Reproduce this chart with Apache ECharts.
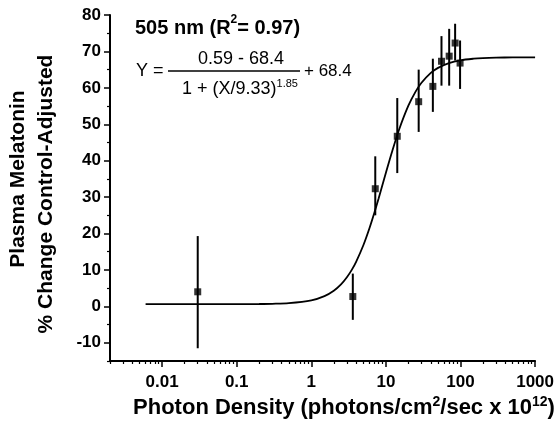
<!DOCTYPE html>
<html><head><meta charset="utf-8">
<script src="https://cdn.jsdelivr.net/npm/echarts@6/dist/echarts.min.js"></script>
<style>html,body{margin:0;padding:0;background:#fff}#c{width:557px;height:431px}</style>
</head><body><div id="c"></div>
<script>
// Measured points (photon density, % change) and error bar limits
const photonX = [0.03, 3.6, 7.2, 14.2, 27.5, 42.6, 55.6, 70.5, 84.7, 98.7];
const melatoninY = [4.0, 2.7, 32.3, 46.7, 56.2, 60.4, 67.3, 68.7, 72.3, 66.8];
const errLow = [-11.5, -3.7, 25.0, 36.6, 47.9, 53.4, 60.6, 60.6, 67.5, 59.7];
const errHigh = [19.3, 9.0, 41.2, 57.2, 65.0, 68.0, 74.2, 76.2, 77.6, 73.0];
// Fitted curve
const curveX = [0.006, 0.01, 0.03, 0.1, 0.2, 0.3, 0.5, 1, 1.5, 2, 2.5, 3, 3.5, 4, 5, 6, 7, 8, 9, 10, 12, 15, 20, 25, 30, 40, 50, 70, 100, 150, 200, 300, 500, 1000];
const curveY = [0.59, 0.59, 0.59, 0.60, 0.65, 0.71, 0.89, 1.66, 2.82, 4.30, 6.05, 8.00, 10.09, 12.30, 16.85, 21.37, 25.69, 29.70, 33.37, 36.67, 42.25, 48.50, 55.10, 58.97, 61.39, 64.10, 65.49, 66.81, 67.57, 68.00, 68.17, 68.29, 68.36, 68.39];
// Axis ticks
const xMajor = [0.01, 0.1, 1, 10, 100, 1000];
const xLabels = ['0.01', '0.1', '1', '10', '100', '1000'];
const yMajor = [-10, 0, 10, 20, 30, 40, 50, 60, 70, 80];
const yMinor = [-15, -5, 5, 15, 25, 35, 45, 55, 65, 75];

const xMinor = [];
for (let n = -3; n <= 2; n++) for (let k = 2; k <= 9; k++) {
  const v = +(k * Math.pow(10, n)).toPrecision(6);
  if (v >= 0.002 && v <= 1000) xMinor.push(v);
}

const FONT = '"Liberation Sans", Arial, Helvetica, sans-serif';
const chart = echarts.init(document.getElementById('c'), null, {renderer: 'canvas'});
const xBase = {type: 'log', logBase: 10, min: 0.002, max: 1000, splitLine: {show: false}, gridIndex: 0, position: 'bottom'};
const yBase = {type: 'value', min: -15, max: 80, interval: 5, splitLine: {show: false}, gridIndex: 0, position: 'left'};

chart.setOption({
  animation: false,
  backgroundColor: '#fff',
  grid: {left: 110, right: 19, top: 15, bottom: 70},
  xAxis: [
    Object.assign({}, xBase, {
      axisLine: {show: true, onZero: false, lineStyle: {color: '#000', width: 2}},
      axisTick: {show: true, inside: false, length: 6, lineStyle: {color: '#000', width: 1.5}, customValues: xMajor},
      axisLabel: {show: true, customValues: xMajor, margin: 13, color: '#000', fontFamily: FONT, fontWeight: 'bold', fontSize: 17,
        formatter: v => { const i = xMajor.findIndex(m => Math.abs(Math.log10(m) - Math.log10(v)) < 1e-6); return i >= 0 ? xLabels[i] : ''; }}
    }),
    Object.assign({}, xBase, {
      axisLine: {show: false, onZero: false},
      axisTick: {show: true, inside: false, length: 3, lineStyle: {color: '#000', width: 1.2}, customValues: xMinor},
      axisLabel: {show: false}
    })
  ],
  yAxis: [
    Object.assign({}, yBase, {
      axisLine: {show: true, onZero: false, lineStyle: {color: '#000', width: 2}},
      axisTick: {show: true, length: 6, lineStyle: {color: '#000', width: 1.5}, customValues: yMajor},
      axisLabel: {show: true, customValues: yMajor, margin: 9, color: '#000', fontFamily: FONT, fontWeight: 'bold', fontSize: 17}
    }),
    Object.assign({}, yBase, {
      axisLine: {show: false, onZero: false},
      axisTick: {show: true, length: 3, lineStyle: {color: '#000', width: 1.2}, customValues: yMinor},
      axisLabel: {show: false}
    })
  ],
  series: [
    {
      type: 'line', xAxisIndex: 0, yAxisIndex: 0, showSymbol: false, smooth: 0.3,
      lineStyle: {color: '#000', width: 1.8},
      data: curveX.map((x, i) => [x, curveY[i]]), z: 2
    },
    {
      type: 'custom', xAxisIndex: 0, yAxisIndex: 0,
      data: photonX.map((x, i) => [x, errLow[i], errHigh[i]]),
      renderItem: (params, api) => {
        const p1 = api.coord([api.value(0), api.value(1)]);
        const p2 = api.coord([api.value(0), api.value(2)]);
        return {type: 'line', shape: {x1: p1[0], y1: p1[1], x2: p2[0], y2: p2[1]}, style: {stroke: '#000', lineWidth: 2}};
      }, z: 3
    },
    {
      type: 'scatter', xAxisIndex: 0, yAxisIndex: 0, symbol: 'rect', symbolSize: 7,
      itemStyle: {color: '#000'},
      data: photonX.map((x, i) => [x, melatoninY[i]]), z: 4
    }
  ],
  graphic: [
    {type: 'text', left: 135, top: 14, style: {
      text: '{b|505 nm (R}{s|2}{b|= 0.97)}', fill: '#000',
      rich: {b: {fontFamily: FONT, fontWeight: 'bold', fontSize: 20, verticalAlign: 'bottom', lineHeight: 24},
             s: {fontFamily: FONT, fontWeight: 'bold', fontSize: 12, verticalAlign: 'top', lineHeight: 24, padding: [0, 0, 10, 0]}}}},
    {type: 'text', x: 136, y: 71, style: {text: 'Y =', fontFamily: FONT, fontSize: 18, fill: '#000', verticalAlign: 'middle'}},
    {type: 'text', x: 241, y: 59, style: {text: '0.59 - 68.4', fontFamily: FONT, fontSize: 18, fill: '#000', align: 'center', verticalAlign: 'middle'}},
    {type: 'line', shape: {x1: 168, y1: 71, x2: 300, y2: 71}, style: {stroke: '#000', lineWidth: 1.3}},
    {type: 'text', x: 182, y: 78, style: {
      text: '{n|1 + (X/9.33)}{s|1.85}', fill: '#000',
      rich: {n: {fontFamily: FONT, fontSize: 18, verticalAlign: 'bottom', lineHeight: 20},
             s: {fontFamily: FONT, fontSize: 11, verticalAlign: 'top', lineHeight: 20}}}},
    {type: 'text', x: 304, y: 71, style: {text: '+ 68.4', fontFamily: FONT, fontSize: 17, fill: '#000', verticalAlign: 'middle'}},
    {type: 'text', x: 344, y: 407, style: {
      text: '{t|Photon Density (photons/cm}{s|2}{t|/sec x 10}{s|12}{t|)}', fill: '#000', align: 'center', verticalAlign: 'middle',
      rich: {t: {fontFamily: FONT, fontWeight: 'bold', fontSize: 22, verticalAlign: 'bottom', lineHeight: 24},
             s: {fontFamily: FONT, fontWeight: 'bold', fontSize: 14, verticalAlign: 'top', lineHeight: 24}}}},
    {type: 'text', x: 18, y: 179, rotation: Math.PI / 2, style: {text: 'Plasma Melatonin', fontFamily: FONT, fontWeight: 'bold', fontSize: 21, fill: '#000', align: 'center', verticalAlign: 'middle'}},
    {type: 'text', x: 46, y: 194, rotation: Math.PI / 2, style: {text: '% Change Control-Adjusted', fontFamily: FONT, fontWeight: 'bold', fontSize: 21, fill: '#000', align: 'center', verticalAlign: 'middle'}}
  ]
});
</script></body></html>
